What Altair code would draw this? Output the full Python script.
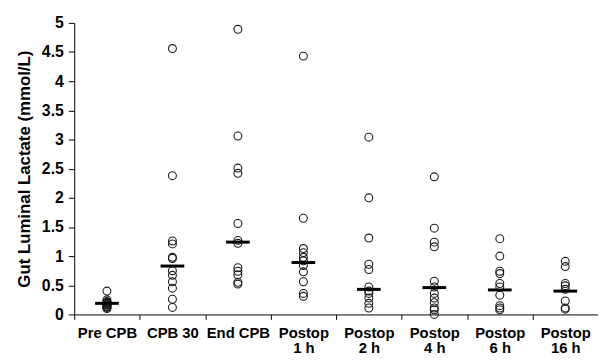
import altair as alt
import pandas as pd

categories = ["Pre CPB", "CPB 30", "End CPB", "Postop\n1 h", "Postop\n2 h",
              "Postop\n4 h", "Postop\n6 h", "Postop\n16 h"]

pre_cpb = [0.40, 0.25, 0.22, 0.21, 0.20, 0.19, 0.18, 0.17, 0.16, 0.14, 0.13, 0.12, 0.10]
cpb_30 = [4.56, 2.38, 1.26, 1.21, 0.98, 0.96, 0.75, 0.67, 0.56, 0.45, 0.26, 0.12]
end_cpb = [4.89, 3.06, 2.51, 2.42, 1.56, 1.27, 1.22, 0.80, 0.74, 0.68, 0.55, 0.52]
postop_1h = [4.43, 1.65, 1.13, 1.06, 0.98, 0.92, 0.84, 0.73, 0.56, 0.36, 0.31]
postop_2h = [3.04, 2.00, 1.31, 0.86, 0.77, 0.47, 0.40, 0.36, 0.28, 0.19, 0.11]
postop_4h = [2.36, 1.48, 1.24, 1.16, 0.57, 0.47, 0.36, 0.28, 0.20, 0.11, 0.08, 0.00]
postop_6h = [1.30, 1.00, 0.74, 0.70, 0.53, 0.47, 0.33, 0.15, 0.11, 0.08]
postop_16h = [0.91, 0.82, 0.53, 0.49, 0.43, 0.23, 0.11, 0.09]

medians = [0.19, 0.83, 1.24, 0.89, 0.43, 0.46, 0.42, 0.40]

y_ticks = [0, 0.5, 1, 1.5, 2, 2.5, 3, 3.5, 4, 4.5, 5]

series = [pre_cpb, cpb_30, end_cpb, postop_1h, postop_2h, postop_4h, postop_6h, postop_16h]
rows = []
for cat, vals in zip(categories, series):
    for v in vals:
        rows.append({"cat": cat, "val": v})
df = pd.DataFrame(rows)
med_df = pd.DataFrame({"cat": categories, "val": medians})

FONT = "Liberation Sans"

x_enc = alt.X(
    "cat:N",
    sort=categories,
    scale=alt.Scale(domain=categories, paddingInner=0, paddingOuter=0),
    axis=alt.Axis(
        title=None,
        labelAngle=0,
        labelExpr="split(datum.label, '\\n')",
        labelFont=FONT,
        labelFontWeight="bold",
        labelFontSize=15,
        labelColor="black",
        labelPadding=6,
        labelLineHeight=16,
        labelOverlap=False,
        labelBound=False,
        tickBand="extent",
        tickSize=5,
        tickColor="black",
        domainColor="black",
        grid=False,
    ),
)

y_enc = alt.Y(
    "val:Q",
    scale=alt.Scale(domain=[0, 5], nice=False),
    axis=alt.Axis(
        title="Gut Luminal Lactate (mmol/L)",
        values=y_ticks,
        tickCount=11,
        format="~g",
        labelFont=FONT,
        labelFontWeight="bold",
        labelFontSize=16,
        labelColor="black",
        labelPadding=5,
        labelOverlap=False,
        labelBound=False,
        labelFlush=False,
        tickSize=6,
        tickColor="black",
        domainColor="black",
        titleFont=FONT,
        titleFontWeight="bold",
        titleFontSize=17,
        titleColor="black",
        titlePadding=8,
        grid=False,
    ),
)

points = alt.Chart(df).mark_point(
    shape="circle", filled=False, size=64, color="#1a1a1a", strokeWidth=1.1, opacity=1
).encode(x=x_enc, y=y_enc)

bars = alt.Chart(med_df).mark_tick(
    color="black", size=24, thickness=3, orient="horizontal", opacity=1
).encode(x=x_enc, y=y_enc)

chart = alt.layer(points, bars).properties(
    width=530,
    height=295,
    autosize=alt.AutoSizeParams(type="none"),
    padding={"left": 67, "top": 13, "right": 0, "bottom": 40},
).configure_view(stroke=None)

chart.save("out.html", embed_options={"renderer": "svg", "actions": False})
